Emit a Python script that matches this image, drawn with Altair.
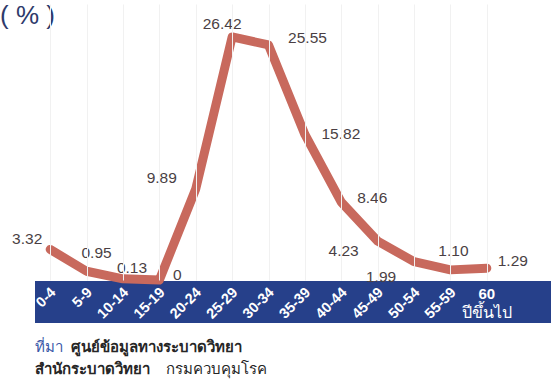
import altair as alt
import pandas as pd

# Age groups and share of cases (%)
age_groups = ["0-4", "5-9", "10-14", "15-19", "20-24", "25-29", "30-34",
              "35-39", "40-44", "45-49", "50-54", "55-59", "60 ปีขึ้นไป"]
percent = [3.32, 0.95, 0.13, 0, 9.89, 26.42, 25.55, 15.82, 8.46, 4.23, 1.99, 1.10, 1.29]

unit_label = "( % )"
source_line1 = ["ที่มา", "ศูนย์ข้อมูลทางระบาดวิทยา"]
source_line2 = ["สำนักระบาดวิทยา", "กรมควบคุมโรค"]

df = pd.DataFrame({"age": age_groups, "pct": percent})

# ---- layout ----
W, H = 473, 276
PAD_L, PAD_T = 32, 4
FONT = "Liberation Sans, Arial, Noto Sans, sans-serif"
LINE_COLOR = "#c8695d"
BAND_COLOR = "#26408a"
LABEL_COLOR = "#4a3f44"

# where each value label sits relative to its point (dx, dy)
label_offsets = {
    "0-4": (-23, -10), "5-9": (10, -18), "10-14": (9, -11), "15-19": (18, -5),
    "20-24": (-34, -11), "25-29": (-10, -13), "30-34": (39, -7), "35-39": (36, 0),
    "40-44": (31, -4), "45-49": (-34, 10), "50-54": (-33, 15), "55-59": (3, -19),
    "60 ปีขึ้นไป": (26, -7),
}

x_enc = alt.X(
    "age:N", sort=age_groups, title=None,
    scale=alt.Scale(paddingInner=0, paddingOuter=0),
    axis=alt.Axis(
        labelAngle=-45, labelAlign="right", labelBaseline="middle",
        labelColor="white", labelFont=FONT, labelFontSize=14.5, labelFontWeight="bold",
        labelPadding=10, labelOffset=3, tickSize=0, ticks=False, domain=False,
        grid=True, gridColor="#f1f1f1", gridWidth=1, zindex=1,
        labelExpr="indexof(datum.value, ' ') >= 0 ? '' : datum.value",
    ),
)
y_enc = alt.Y("pct:Q", axis=None, scale=alt.Scale(domain=[0, 30], nice=False, zero=True))

one = pd.DataFrame({"k": [0]})

band = alt.Chart(one).mark_rect(color=BAND_COLOR).encode(
    x=alt.value(3), x2=alt.value(519), y=alt.value(277), y2=alt.value(319)
)

line = alt.Chart(df).mark_line(
    color=LINE_COLOR, strokeWidth=9, strokeCap="round", strokeJoin="round"
).encode(x=x_enc, y=y_enc)

base_text = alt.Chart(df).transform_calculate(
    label="datum.pct == 0 ? '0' : format(datum.pct, '.2f')"
)
value_labels = []
for cat in age_groups:
    dx, dy = label_offsets[cat]
    value_labels.append(
        base_text.transform_filter(alt.datum.age == cat).mark_text(
            dx=dx, dy=dy, font=FONT, fontSize=15.5, color=LABEL_COLOR,
            align="center", baseline="middle",
        ).encode(x=alt.X("age:N", sort=age_groups), y=y_enc, text="label:N")
    )

# the oldest group is written upright on two lines inside the band
last = alt.Chart(df).transform_filter(
    alt.datum.age == age_groups[-1]
).transform_calculate(
    first="split(datum.age, ' ')[0]", rest="split(datum.age, ' ')[1]"
)
last_top = last.mark_text(
    font=FONT, fontSize=15, fontWeight="bold", color="white",
    align="center", baseline="middle",
).encode(x=alt.X("age:N", sort=age_groups), y=alt.value(290), text="first:N")
last_bottom = last.mark_text(
    font=FONT, fontSize=16, color="white", align="center", baseline="middle",
).encode(x=alt.X("age:N", sort=age_groups), y=alt.value(309), text="rest:N")

unit = alt.Chart(one).mark_text(
    text=unit_label, font=FONT, fontSize=26, color="#2e3a6b", align="left",
    baseline="alphabetic",
).encode(x=alt.value(-32), y=alt.value(20))

src = [
    (source_line1[0], 3, 348, "#3a58a8", "normal"),
    (source_line1[1], 39, 348, "#262626", "bold"),
    (source_line2[0], 3, 370, "#262626", "bold"),
    (source_line2[1], 134, 370, "#262626", "normal"),
]
source_marks = [
    alt.Chart(one).mark_text(
        text=t, font=FONT, fontSize=15, color=c, fontWeight=w,
        align="left", baseline="alphabetic",
    ).encode(x=alt.value(x), y=alt.value(y))
    for t, x, y, c, w in src
]

chart = alt.layer(
    band, line, *value_labels, last_top, last_bottom, unit, *source_marks
).properties(
    width=W, height=H,
    autosize=alt.AutoSizeParams(type="none"),
    padding={"left": PAD_L, "top": PAD_T, "right": 551 - PAD_L - W, "bottom": 380 - PAD_T - H},
).configure_view(stroke=None)

chart.save("out.html", embed_options={"renderer": "svg", "actions": False})
